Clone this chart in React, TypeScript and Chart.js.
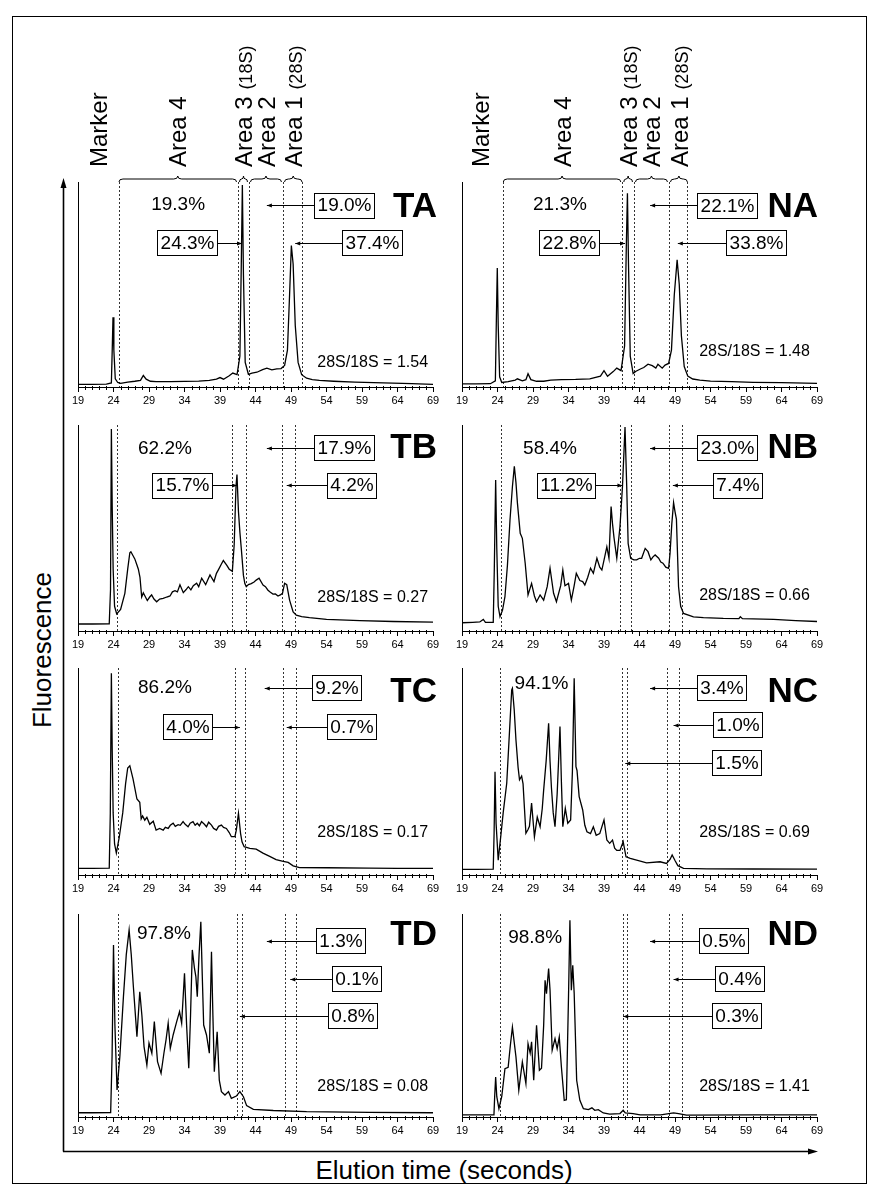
import { useEffect, useRef } from 'react';
import { Chart, registerables } from 'chart.js';

Chart.register(...registerables);

const FONT = '"Liberation Sans", Arial, Helvetica, sans-serif';

// ---------------- data ----------------
const TIME_TICKS = [19, 24, 29, 34, 39, 44, 49, 54, 59, 64, 69];
const AREA_LABELS = ['Marker', 'Area 4', 'Area 3', 'Area 2', 'Area 1'];
const AREA_NOTES = ['', '', '(18S)', '', '(28S)'];
const PANEL_NAMES = ['TA', 'NA', 'TB', 'NB', 'TC', 'NC', 'TD', 'ND'];
const RATIOS = [1.54, 1.48, 0.27, 0.66, 0.17, 0.69, 0.08, 1.41];
const AXIS_TITLE_X = 'Elution time (seconds)';
const AXIS_TITLE_Y = 'Fluorescence';

// area percentages: [Area 4, Area 3, Area 2, Area 1]
const TA_PCT = [19.3, 24.3, 19.0, 37.4];
const NA_PCT = [21.3, 22.8, 22.1, 33.8];
const TB_PCT = [62.2, 15.7, 17.9, 4.2];
const NB_PCT = [58.4, 11.2, 23.0, 7.4];
const TC_PCT = [86.2, 4.0, 9.2, 0.7];
const NC_PCT = [94.1, 1.5, 3.4, 1.0];
const TD_PCT = [97.8, 0.8, 1.3, 0.1];
const ND_PCT = [98.8, 0.3, 0.5, 0.4];

// area boundaries (seconds)
const TA_BOUNDS = [24.77, 41.54, 43.08, 47.87, 50.55];
const NA_BOUNDS = [24.82, 41.58, 43.22, 48.15, 50.74];
const TB_BOUNDS = [24.45, 40.65, 42.6, 47.7, 49.56];
const NB_BOUNDS = [24.5, 41.25, 42.76, 48.15, 50.03];
const TC_BOUNDS = [24.68, 41.1, 42.5, 47.9, 49.66];
const NC_BOUNDS = [24.35, 41.5, 42.3, 47.9, 49.6];
const TD_BOUNDS = [24.68, 41.44, 42.14, 48.15, 49.66];
const ND_BOUNDS = [24.35, 41.63, 42.28, 48.15, 50.03];

// traces: [time (s), fluorescence (% of panel range)]
const TA_TRACE = [
  [19, 1.3], [21, 1.3], [23, 1.4], [23.7, 2], [23.82, 18], [23.93, 34], [24.05, 18], [24.25, 4], [24.6, 2.2],
  [25, 1.8], [26, 2.4], [27, 2.8], [27.8, 3.2], [28.2, 5.6], [28.6, 3.8], [29.2, 2.8], [30, 2.6], [32, 2.6],
  [34, 2.7], [36, 2.9], [37.5, 3.2], [38.5, 3.8], [39, 4.6], [39.5, 3.8], [40.3, 5.5], [40.8, 6.8], [41.4, 6.0],
  [41.8, 15], [42.0, 60], [42.15, 98.5], [42.3, 55], [42.55, 12], [43.0, 6.2], [43.5, 6.8], [44.2, 7.2], [45, 8.5],
  [45.6, 9.2], [46.3, 8.4], [47, 8.8], [47.6, 9.0], [48.1, 10.5], [48.5, 18], [48.8, 45], [49.05, 69], [49.3, 60],
  [49.6, 30], [50, 12], [50.5, 6], [51.2, 4.3], [52, 3.6], [53, 3.2], [55, 2.8], [58, 2.4], [62, 2.0], [66, 1.6], [69, 1.3],
];
const NA_TRACE = [
  [19, 1.5], [21, 1.5], [23, 1.6], [23.7, 3], [23.85, 35], [23.97, 58], [24.1, 30], [24.3, 5], [24.6, 2.2],
  [25.5, 2.6], [26.5, 3.4], [26.8, 4.0], [27.5, 3.0], [28.0, 3.6], [28.3, 6.5], [28.7, 3.6], [29.5, 2.8], [30.5, 2.8],
  [31.5, 3.4], [33, 3.6], [35, 3.7], [37, 4.0], [38.5, 5.3], [39.0, 8.0], [39.5, 5.2], [40.3, 7.5], [40.8, 9.2],
  [41.4, 8.0], [41.9, 20], [42.15, 70], [42.3, 94.5], [42.45, 60], [42.7, 15], [43.1, 6.6], [43.5, 7.7], [44.2, 8.9],
  [44.6, 9.5], [45.2, 11.1], [45.8, 10.4], [46.3, 9.2], [46.6, 11.1], [47.2, 9.2], [47.6, 10.7], [48.1, 11.5],
  [48.5, 18], [48.9, 45], [49.3, 62], [49.6, 50], [49.9, 25], [50.3, 10], [50.8, 5.3], [51.5, 3.9], [52.5, 3.4],
  [54, 2.9], [57, 2.6], [60, 2.3], [64, 2.1], [69, 1.8],
];
const TB_TRACE = [
  [19, 3.4], [21, 3.4], [23.4, 3.5], [23.58, 20], [23.7, 98], [23.82, 60], [23.95, 30], [24.15, 12], [24.45, 8.3],
  [25.0, 10.5], [25.6, 18.3], [26.0, 30], [26.3, 38], [26.45, 38.5], [27.0, 35], [27.3, 32], [27.5, 30], [27.73, 26],
  [27.97, 16.5], [28.2, 18.5], [28.43, 17], [28.76, 14.8], [29.1, 16.5], [29.37, 17.5], [29.7, 15.5], [30.08, 14.2],
  [30.5, 15.5], [31.0, 15.8], [31.5, 16.5], [31.96, 17], [32.3, 19], [32.66, 19.6], [33.0, 19], [33.36, 22.4],
  [33.83, 18.6], [34.2, 20], [34.54, 21.5], [34.9, 20], [35.24, 22], [35.71, 23.2], [36.0, 21.5], [36.42, 25.6],
  [36.98, 22.5], [37.3, 25], [37.59, 27.2], [38.15, 24], [38.5, 28], [38.77, 29.7], [39.2, 32.5], [39.47, 34.2],
  [39.94, 32], [40.3, 30], [40.74, 29], [41.0, 42], [41.25, 70], [41.39, 76], [41.6, 58], [41.8, 48], [42.0, 40],
  [42.3, 27], [42.5, 23], [42.7, 21.5], [43.0, 22.5], [43.4, 23], [43.8, 23.8], [44.1, 24.7], [44.5, 25.6],
  [45.06, 22.3], [45.4, 21.5], [45.76, 19.8], [46.1, 18.8], [46.46, 17.9], [46.8, 18], [47.17, 17], [47.5, 17.5],
  [47.8, 18.3], [48.1, 23.2], [48.4, 22.5], [48.8, 15], [49.3, 9.3], [49.75, 7.7], [50.5, 7], [51.6, 6.5], [54, 5.6],
  [58.7, 5.0], [63.4, 4.6], [69, 4.3],
];
const NB_TRACE = [
  [19, 4.0], [20.5, 4.2], [21.5, 4.4], [22.0, 5.6], [22.3, 4.2], [23.4, 4.2], [23.55, 30], [23.74, 73.3], [23.9, 40],
  [24.1, 12], [24.35, 7.0], [24.7, 10], [25.05, 16.7], [25.4, 32], [25.76, 53.9], [26.1, 70], [26.37, 80], [26.6, 72],
  [26.8, 62.3], [27.2, 47.4], [27.5, 45], [27.9, 32.9], [28.3, 17.5], [28.8, 23.1], [29.2, 17], [29.5, 14.2],
  [30.0, 17.5], [30.5, 15], [31.0, 21.5], [31.4, 30.5], [31.9, 18.3], [32.3, 14.2], [32.9, 22], [33.2, 29.6],
  [33.5, 22], [34.0, 23.1], [34.4, 15], [34.8, 22], [35.1, 28], [35.6, 24.5], [36.0, 24], [36.3, 22.3], [36.7, 26],
  [37.1, 30.5], [37.5, 28], [38.0, 35.3], [38.4, 31], [38.7, 29.6], [39.1, 36], [39.4, 40.9], [39.7, 35.3],
  [40.0, 60.4], [40.2, 52], [40.4, 45.6], [40.8, 35.3], [41.25, 50.7], [41.6, 70], [41.96, 99], [42.2, 70],
  [42.4, 42.5], [42.76, 35.3], [43.2, 34.5], [43.6, 34.5], [44.0, 35.3], [44.3, 35.3], [44.8, 40.1], [45.2, 38.5],
  [45.6, 34.5], [45.9, 36], [46.2, 36.9], [46.7, 35.3], [47.0, 33.5], [47.3, 32.9], [47.7, 31], [48.1, 30.4],
  [48.3, 37.6], [48.55, 52], [48.8, 62.3], [49.0, 58], [49.2, 54.3], [49.5, 21.5], [49.8, 12], [50.2, 8.5],
  [51.6, 6.9], [53, 6.5], [55.8, 6.1], [58.0, 6.0], [58.2, 6.9], [58.5, 6.0], [62.9, 5.6], [66, 5.0], [69, 4.6],
];
const TC_TRACE = [
  [19, 3.2], [21, 3.2], [23.4, 3.3], [23.55, 30], [23.7, 97.5], [23.82, 60], [23.95, 30], [24.15, 15], [24.4, 10.6],
  [24.8, 18], [25.3, 30], [25.7, 44], [26.0, 51.7], [26.3, 52.8], [26.75, 46.4], [27.3, 36.7], [27.7, 35.1],
  [27.9, 27.1], [28.1, 28.5], [28.4, 26.5], [28.7, 27.9], [29.1, 24.5], [29.6, 26], [30.0, 21.7], [30.5, 22.5],
  [31.0, 21.7], [31.3, 23], [31.7, 22.5], [32.0, 24], [32.4, 25], [32.7, 23.5], [33.1, 24.3], [33.4, 24],
  [33.8, 25.8], [34.1, 24.5], [34.5, 23.3], [34.8, 25], [35.2, 25.8], [35.5, 24], [35.8, 25], [36.1, 23.8],
  [36.4, 25.8], [36.8, 24.5], [37.1, 23.3], [37.4, 25.5], [37.8, 24.1], [38.1, 22.5], [38.5, 21.7], [38.8, 23.5],
  [39.2, 24.1], [39.5, 23], [39.9, 22.5], [40.3, 20.5], [40.6, 18.5], [41.1, 18.5], [41.3, 21.7], [41.6, 29.8],
  [41.9, 20], [42.1, 16], [42.4, 13.7], [43.2, 12.9], [44.1, 12.5], [45.05, 10.6], [46.0, 9.0], [46.9, 7.4],
  [47.9, 6.6], [48.6, 6.1], [49.3, 4.4], [50.2, 3.6], [54, 3.5], [60, 3.3], [64, 3.2], [69, 3.2],
];
const NC_TRACE = [
  [19, 2.7], [21, 2.7], [23.4, 2.8], [23.52, 20], [23.65, 49.9], [23.8, 25], [24.1, 7.2], [24.5, 20], [24.8, 30],
  [25.3, 44.3], [25.7, 70], [26.0, 89.4], [26.1, 90.2], [26.35, 80], [26.6, 65.2], [26.9, 52], [27.1, 46],
  [27.4, 47.8], [27.6, 44], [27.8, 32], [28.0, 20.2], [28.3, 22], [28.5, 23.5], [28.8, 34.7], [29.2, 18.5],
  [29.6, 28], [30.0, 23.3], [30.3, 32], [30.5, 41], [30.85, 55], [31.2, 73.3], [31.4, 55], [31.6, 42], [31.85, 30],
  [32.1, 23.3], [32.4, 39], [32.6, 55], [32.8, 71.7], [33.0, 45], [33.2, 23.3], [33.55, 32.2], [33.9, 25],
  [34.3, 26.6], [34.55, 50], [34.8, 95], [35.05, 52.3], [35.2, 50.5], [35.5, 37.9], [36.0, 31.4], [36.3, 24],
  [36.6, 20.9], [37.1, 20], [37.5, 23.3], [37.9, 19.2], [38.4, 20], [39.0, 26.6], [39.4, 16.9], [39.8, 15.3],
  [40.2, 16.9], [40.5, 13], [40.8, 11.9], [41.25, 11.9], [41.7, 16.1], [42.1, 8.8], [42.7, 8.0], [43.6, 7.2],
  [45.0, 5.9], [46.9, 6.4], [47.8, 5.6], [48.3, 7.5], [48.6, 9.7], [49.0, 7], [49.4, 4.5], [50.2, 3.2], [53.5, 3.0],
  [60, 2.9], [69, 2.8],
];
const TD_TRACE = [
  [19, 2.1], [21, 2.1], [23.6, 2.2], [23.8, 30], [24.0, 84.7], [24.2, 45], [24.5, 13.3], [24.9, 30], [25.4, 59.3],
  [25.8, 80], [26.2, 92.1], [26.5, 80], [26.8, 64.2], [27.3, 39.6], [27.7, 61.7], [28.0, 50], [28.3, 34.7],
  [28.7, 25.6], [29.0, 36.4], [29.4, 31.4], [29.75, 47], [30.2, 27.3], [30.7, 21.5], [31.1, 31.4], [31.4, 38],
  [31.7, 46.2], [32.0, 33.8], [32.4, 40.4], [32.9, 47], [33.3, 51.9], [33.6, 46.2], [34.0, 70.8], [34.3, 45],
  [34.6, 24], [34.85, 50], [35.1, 82.3], [35.4, 73.3], [35.6, 69.2], [35.8, 59.3], [36.05, 80], [36.3, 96.2],
  [36.5, 70], [36.7, 45.3], [37.1, 40.4], [37.5, 31.4], [37.8, 81.4], [38.0, 50], [38.2, 22.3], [38.6, 42],
  [38.9, 18.2], [39.2, 12.5], [39.7, 10.8], [40.2, 12.5], [40.6, 9.2], [41.3, 10.3], [41.8, 12.5], [42.3, 10],
  [42.75, 5.6], [43.7, 3.8], [46.5, 3.2], [51.2, 2.6], [60, 2.3], [69, 2.1],
];
const ND_TRACE = [
  [19, 1.0], [21, 1.0], [23.5, 1.1], [23.6, 10], [23.74, 19.7], [23.9, 10], [24.2, 4.1], [24.6, 10.1], [25.05, 23.8],
  [25.5, 24.5], [25.8, 35], [26.1, 44.3], [26.6, 29.6], [27.0, 13.2], [27.5, 27.1], [28.0, 16.5], [28.3, 36.1],
  [28.6, 31.5], [28.8, 37], [29.1, 18.1], [29.5, 45.2], [29.9, 23], [30.2, 24], [30.5, 45], [30.7, 67.3],
  [30.9, 60.7], [31.2, 73.1], [31.4, 62.4], [31.7, 32.9], [32.1, 38.6], [32.4, 33.7], [32.7, 39.4], [33.0, 24.6],
  [33.4, 8.2], [33.7, 8.5], [34.0, 59.1], [34.2, 96.9], [34.4, 62.4], [34.6, 74.7], [34.8, 61], [35.15, 18.1],
  [35.6, 8.2], [36.1, 4.1], [36.8, 3.6], [37.3, 4.5], [37.7, 3.3], [38.2, 3.6], [38.9, 2.0], [39.8, 1.4],
  [41.25, 1.7], [41.7, 3.3], [42.0, 2.0], [43.1, 1.7], [44.1, 1.0], [47.0, 1.0], [48.8, 2.0], [49.5, 1.7],
  [50.6, 0.9], [60, 1.0], [69, 1.0],
];

// ---------------- layout / style (not data) ----------------
// a4: [time, dy] of unboxed Area 4 label; a2/a3/a1: [box centre time, row index, arrow target time]
const PANEL_LAYOUT: Record<string, any> = {
  TA: { a4: [33.1, 22], rows: [23, 60.5], a2: [56.53, 0, 45.6], a3: [34.35, 1, 42.1], a1: [60.34, 1, 49.6], title: 35, ratio: -24 },
  NA: { a4: [32.8, 22], rows: [23.3, 60.5], a2: [56.39, 0, 45.5], a3: [34.14, 1, 41.96], a1: [60.41, 1, 49.4], title: 35, ratio: -35 },
  TB: { a4: [31.25, 23], rows: [22.5, 60], a2: [56.46, 0, 45.6], a3: [33.65, 1, 41.4], a1: [57.59, 1, 48.4], title: 33, ratio: -33 },
  NB: { a4: [31.4, 23], rows: [22.5, 60], a2: [56.39, 0, 45.5], a3: [33.65, 1, 41.6], a1: [57.8, 1, 48.7], title: 33, ratio: -35 },
  TC: { a4: [31.25, 19], rows: [19.5, 58.5], a2: [55.4, 0, 45.3], a3: [34.42, 1, 41.8], a1: [57.59, 1, 48.4], title: 34, ratio: -42 },
  NC: { a4: [30.2, 15], rows: [19.5, 56.5, 94.5], a2: [55.48, 0, 45.5], a3: [57.69, 2, 42.0], a1: [57.87, 1, 48.8], title: 34, ratio: -42 },
  TD: { a4: [31.1, 19], rows: [26.5, 64.5, 101.5], a2: [56.04, 0, 45.6], a3: [57.73, 2, 41.8], a1: [58.18, 1, 48.9], title: 31, ratio: -30 },
  ND: { a4: [29.3, 23], rows: [26.5, 64.5, 101.5], a2: [55.83, 0, 45.5], a3: [57.69, 2, 41.7], a1: [58.08, 1, 48.8], title: 31, ratio: -30 },
};

const COLS = [
  { left: 0, width: 445, padL: 78, padR: 12, titleOffset: 4, ratioT: 68.3, markerT: 21.8 },
  { left: 445, width: 432, padL: 17, padR: 60, titleOffset: 1, ratioT: 68.0, markerT: 21.55 },
];
const ROWS = [
  { top: 0, padT: 182, axis: 387 },
  { top: 411, padT: 14, axis: 631 },
  { top: 655, padT: 13, axis: 875 },
  { top: 899, padT: 15, axis: 1117 },
];
const X_AXIS_H = 24;

const PANELS = [
  { name: PANEL_NAMES[0], trace: TA_TRACE, bounds: TA_BOUNDS, pct: TA_PCT, ratio: RATIOS[0] },
  { name: PANEL_NAMES[1], trace: NA_TRACE, bounds: NA_BOUNDS, pct: NA_PCT, ratio: RATIOS[1] },
  { name: PANEL_NAMES[2], trace: TB_TRACE, bounds: TB_BOUNDS, pct: TB_PCT, ratio: RATIOS[2] },
  { name: PANEL_NAMES[3], trace: NB_TRACE, bounds: NB_BOUNDS, pct: NB_PCT, ratio: RATIOS[3] },
  { name: PANEL_NAMES[4], trace: TC_TRACE, bounds: TC_BOUNDS, pct: TC_PCT, ratio: RATIOS[4] },
  { name: PANEL_NAMES[5], trace: NC_TRACE, bounds: NC_BOUNDS, pct: NC_PCT, ratio: RATIOS[5] },
  { name: PANEL_NAMES[6], trace: TD_TRACE, bounds: TD_BOUNDS, pct: TD_PCT, ratio: RATIOS[6] },
  { name: PANEL_NAMES[7], trace: ND_TRACE, bounds: ND_BOUNDS, pct: ND_PCT, ratio: RATIOS[7] },
];

const fmtPct = (v: number) => v.toFixed(1) + '%';

function drawArrow(ctx: CanvasRenderingContext2D, x0: number, x1: number, y: number) {
  const yy = Math.round(y) + 0.5;
  ctx.beginPath();
  ctx.moveTo(x0, yy);
  ctx.lineTo(x1, yy);
  ctx.stroke();
  const dir = x1 > x0 ? 1 : -1;
  ctx.beginPath();
  ctx.moveTo(x1, yy);
  ctx.lineTo(x1 - dir * 5, yy - 2);
  ctx.lineTo(x1 - dir * 5, yy + 2);
  ctx.closePath();
  ctx.fill();
}

function drawCallout(ctx: CanvasRenderingContext2D, x: any, ca: any, rows: number[], spec: number[], text: string) {
  const [tc, row, target] = spec;
  const cx = x.getPixelForValue(tc);
  const cy = ca.top + rows[row];
  ctx.font = `19px ${FONT}`;
  const w = Math.round(ctx.measureText(text).width + 6);
  const h = 25;
  const l = Math.round(cx - w / 2) + 0.5;
  const t = Math.round(cy - h / 2) + 0.5;
  ctx.lineWidth = 1;
  ctx.strokeRect(l, t, w, h);
  ctx.textAlign = 'center';
  ctx.textBaseline = 'middle';
  ctx.fillText(text, l + w / 2, cy + 1);
  const tx = x.getPixelForValue(target);
  if (tx < l) drawArrow(ctx, l, tx, cy);
  else drawArrow(ctx, l + w, tx, cy);
}

function drawBrace(ctx: CanvasRenderingContext2D, l: number, r: number, y: number) {
  const h = 6;
  const m = (l + r) / 2;
  const r0 = Math.min(4, (r - l) / 4);
  ctx.beginPath();
  ctx.moveTo(l, y);
  ctx.quadraticCurveTo(l, y - h / 2, l + r0, y - h / 2);
  ctx.lineTo(m - r0, y - h / 2);
  ctx.quadraticCurveTo(m, y - h / 2, m, y - h);
  ctx.quadraticCurveTo(m, y - h / 2, m + r0, y - h / 2);
  ctx.lineTo(r - r0, y - h / 2);
  ctx.quadraticCurveTo(r, y - h / 2, r, y);
  ctx.stroke();
}

function drawVertical(ctx: CanvasRenderingContext2D, main: string, note: string, cx: number, bottom: number) {
  ctx.save();
  ctx.translate(cx, bottom);
  ctx.rotate(-Math.PI / 2);
  ctx.textAlign = 'left';
  ctx.textBaseline = 'alphabetic';
  ctx.font = `24px ${FONT}`;
  const off = 24 * 0.36;
  ctx.fillText(main, 0, off);
  if (note) {
    const w = ctx.measureText(main + ' ').width;
    ctx.font = `18px ${FONT}`;
    ctx.fillText(note, w, off);
  }
  ctx.restore();
}

function makePlugin(panel: any, col: any, isTop: boolean) {
  const lay = PANEL_LAYOUT[panel.name];
  return {
    id: 'annot' + panel.name,
    beforeDatasetsDraw(chart: any) {
      const { ctx, chartArea: ca, scales } = chart;
      const x = scales.x;
      ctx.save();
      ctx.strokeStyle = '#333';
      ctx.lineWidth = 1;
      ctx.setLineDash([2, 2]);
      for (const b of panel.bounds) {
        const px = Math.round(x.getPixelForValue(b)) + 0.5;
        ctx.beginPath();
        ctx.moveTo(px, ca.top);
        ctx.lineTo(px, ca.bottom);
        ctx.stroke();
      }
      ctx.restore();
    },
    afterDraw(chart: any) {
      const { ctx, chartArea: ca, scales } = chart;
      const x = scales.x;
      ctx.save();
      ctx.fillStyle = '#000';
      ctx.strokeStyle = '#000';
      ctx.lineWidth = 1;
      // minor ticks
      const t0 = TIME_TICKS[0];
      const t1 = TIME_TICKS[TIME_TICKS.length - 1];
      ctx.beginPath();
      for (let t = t0; t <= t1; t++) {
        if (TIME_TICKS.includes(t)) continue;
        const px = Math.round(x.getPixelForValue(t)) + 0.5;
        ctx.moveTo(px, ca.bottom - 1);
        ctx.lineTo(px, ca.bottom + 3);
      }
      ctx.stroke();

      // Area 4 percentage
      ctx.font = `19px ${FONT}`;
      ctx.textAlign = 'center';
      ctx.textBaseline = 'middle';
      ctx.fillText(fmtPct(panel.pct[0]), x.getPixelForValue(lay.a4[0]), ca.top + lay.a4[1] + 1);

      // callouts
      drawCallout(ctx, x, ca, lay.rows, lay.a2, fmtPct(panel.pct[2]));
      drawCallout(ctx, x, ca, lay.rows, lay.a3, fmtPct(panel.pct[1]));
      drawCallout(ctx, x, ca, lay.rows, lay.a1, fmtPct(panel.pct[3]));

      // title
      ctx.font = `bold 35px ${FONT}`;
      ctx.textAlign = 'right';
      ctx.textBaseline = 'alphabetic';
      ctx.fillText(panel.name, x.getPixelForValue(t1) + col.titleOffset, ca.top + lay.title);

      // ratio
      ctx.font = `16px ${FONT}`;
      ctx.textAlign = 'right';
      ctx.textBaseline = 'middle';
      ctx.fillText('28S/18S = ' + panel.ratio.toFixed(2), x.getPixelForValue(col.ratioT), ca.bottom + lay.ratio);

      if (isTop) {
        const b = panel.bounds.map((v: number) => x.getPixelForValue(v));
        const spans = [
          [b[0], b[1] - 1.5],
          [b[1] + 1.5, b[2] - 1.5],
          [b[2] + 1.5, b[3] - 1.5],
          [b[3] + 1.5, b[4]],
        ];
        ctx.lineWidth = 1;
        for (const [l, r] of spans) drawBrace(ctx, l, r, ca.top);
        const centers = [x.getPixelForValue(col.markerT), ...spans.map(([l, r]) => (l + r) / 2)];
        for (let i = 0; i < AREA_LABELS.length; i++) {
          drawVertical(ctx, AREA_LABELS[i], AREA_NOTES[i], centers[i], ca.top - 15);
        }
      }
      ctx.restore();
    },
  };
}

function Panel({ index }: { index: number }) {
  const ref = useRef<HTMLCanvasElement>(null);
  const panel = PANELS[index];
  const col = COLS[index % 2];
  const row = ROWS[Math.floor(index / 2)];
  const height = row.axis + X_AXIS_H - row.top;

  useEffect(() => {
    if (!ref.current) return;
    const chart = new Chart(ref.current, {
      type: 'line',
      data: {
        datasets: [
          {
            data: panel.trace.map(([t, v]) => ({ x: t, y: v })),
            borderColor: '#000',
            borderWidth: 1.3,
            pointRadius: 0,
            tension: 0,
            fill: false,
          },
        ],
      },
      options: {
        responsive: false,
        animation: false,
        devicePixelRatio: 1,
        events: [],
        layout: { padding: { left: col.padL, right: col.padR, top: row.padT, bottom: 0 } },
        plugins: { legend: { display: false }, tooltip: { enabled: false }, title: { display: false } },
        scales: {
          x: {
            type: 'linear',
            min: TIME_TICKS[0],
            max: TIME_TICKS[TIME_TICKS.length - 1],
            afterFit: (s: any) => {
              s.height = X_AXIS_H;
            },
            ticks: {
              stepSize: TIME_TICKS[1] - TIME_TICKS[0],
              autoSkip: false,
              maxRotation: 0,
              padding: 2,
              color: '#000',
              font: { size: 11, family: FONT },
              callback: (v: any) => (TIME_TICKS.includes(Number(v)) ? String(v) : ''),
            },
            grid: { drawOnChartArea: false, tickLength: 5, color: '#000', lineWidth: 1 },
            border: { display: true, color: '#000', width: 1 },
          },
          y: {
            min: 0,
            max: 100,
            afterFit: (s: any) => {
              s.width = 0;
            },
            ticks: { display: false },
            grid: { display: false },
            border: { display: true, color: '#000', width: 1 },
          },
        },
      } as any,
      plugins: [makePlugin(panel, col, index < 2)],
    });
    return () => chart.destroy();
  }, []);

  return (
    <canvas
      ref={ref}
      width={col.width}
      height={height}
      style={{ position: 'absolute', left: col.left, top: row.top, width: col.width, height }}
    />
  );
}

export default function App() {
  return (
    <div
      style={{
        position: 'absolute',
        left: 0,
        top: 0,
        width: 877,
        height: 1199,
        background: '#fff',
        overflow: 'hidden',
        fontFamily: FONT,
      }}
    >
      <svg width={877} height={1199} style={{ position: 'absolute', left: 0, top: 0 }}>
        <rect x={12.5} y={16.5} width={854} height={1167} fill="none" stroke="#000" strokeWidth={1} />
        <line x1={63.5} y1={1151.5} x2={63.5} y2={186} stroke="#000" strokeWidth={1.6} />
        <polygon points="63.5,178 60.5,188 66.5,188" fill="#000" />
        <line x1={63} y1={1151.5} x2={810} y2={1151.5} stroke="#000" strokeWidth={1.6} />
        <polygon points="818,1151.5 808,1148.5 808,1154.5" fill="#000" />
      </svg>
      <div
        style={{
          position: 'absolute',
          left: 42,
          top: 650,
          transform: 'translate(-50%, -50%) rotate(-90deg)',
          fontSize: 26,
          lineHeight: 1,
          whiteSpace: 'nowrap',
          color: '#000',
        }}
      >
        {AXIS_TITLE_Y}
      </div>
      <div
        style={{
          position: 'absolute',
          left: 444,
          top: 1170,
          transform: 'translate(-50%, -50%)',
          fontSize: 26,
          lineHeight: 1,
          whiteSpace: 'nowrap',
          color: '#000',
        }}
      >
        {AXIS_TITLE_X}
      </div>
      {PANELS.map((p, i) => (
        <Panel key={p.name} index={i} />
      ))}
    </div>
  );
}
